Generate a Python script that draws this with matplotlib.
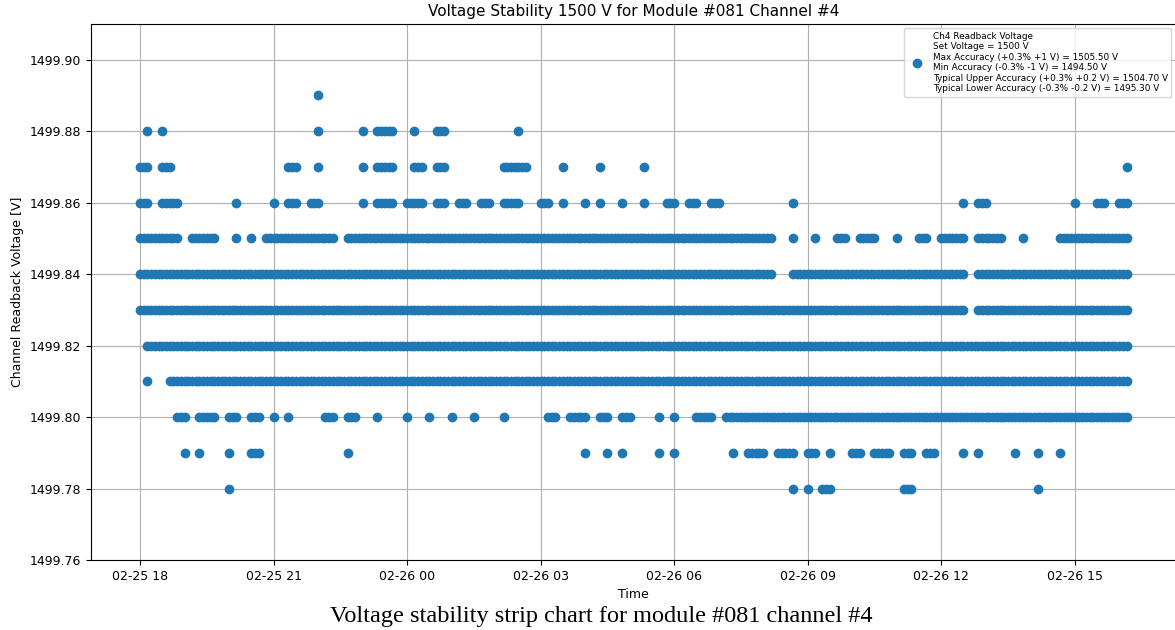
import datetime

import matplotlib
matplotlib.use("Agg")
import matplotlib.dates as mdates
import numpy as np
from matplotlib import pyplot as plt
from matplotlib.ticker import FormatStrFormatter

# --- Data ---
# start of the run and width of one slot of the occupancy strings
start_time = datetime.datetime(2023, 2, 25, 18, 0)
slot_minutes = 5

# readback levels [V]
levels = [1499.89, 1499.88, 1499.87, 1499.86, 1499.85, 1499.84,
          1499.83, 1499.82, 1499.81, 1499.80, 1499.79, 1499.78]

# one string per level, one char per 5 min slot ('#' = reading at that level)
# groups of 12 slots = 1 hour from 02-25 18:00, last group ends 02-26 16:10
occ_1499_89 = ("............ ............ ............ ............ #........... ............ "
               "............ ............ ............ ............ ............ ............ "
               "............ ............ ............ ............ ............ ............ "
               "............ ............ ............ ............ ...")
occ_1499_88 = ("..#...#..... ............ ............ ............ #........... #...#####... "
               "..#.....###. ............ ......#..... ............ ............ ............ "
               "............ ............ ............ ............ ............ ............ "
               "............ ............ ............ ............ ...")
occ_1499_87 = ("###...###... ............ ............ ....###..... #........... #...#####... "
               "..###...###. ............ ..#######... ......#..... ....#....... ....#....... "
               "............ ............ ............ ............ ............ ............ "
               "............ ............ ............ ............ ..#")
occ_1499_86 = ("###...#####. ............ ..#......... #...###...## #........... #...#####... "
               "#####...###. ..###...###. ..#####..... ###...#..... #...#.....#. ....#.....## "
               "#...###...## #........... ........#... ............ ............ ............ "
               "......#...## #........... ............ #.....###... ###")
occ_1499_85 = ("###########. ..#######... ..#...#...## ############ #####...#### ############ "
               "############ ############ ############ ############ ############ ############ "
               "############ ############ ###.....#... ..#.....###. ..#####..... #.....###... "
               "#######...## #####.....#. ........#### ############ ###")
occ_1499_84 = ("############ ############ ############ ############ ############ ############ "
               "############ ############ ############ ############ ############ ############ "
               "############ ############ ###.....#### ############ ############ ############ "
               "#######...## ############ ############ ############ ###")
occ_1499_83 = ("############ ############ ############ ############ ############ ############ "
               "############ ############ ############ ############ ############ ############ "
               "############ ############ ############ ############ ############ ############ "
               "#######...## ############ ############ ############ ###")
occ_1499_82 = ("..########## ############ ############ ############ ############ ############ "
               "############ ############ ############ ############ ############ ############ "
               "############ ############ ############ ############ ############ ############ "
               "############ ############ ############ ############ ###")
occ_1499_81 = ("..#.....#### ############ ############ ############ ############ ############ "
               "############ ############ ############ ############ ############ ############ "
               "############ ############ ############ ############ ############ ############ "
               "############ ############ ############ ############ ###")
occ_1499_80 = ("..........## #...#####... ###...###... #...#....... ..###...###. ....#....... "
               "#.....#..... #.....#..... ..#......... ..###...#### #...###...## #.......#... "
               "#.....#####. ..########## ############ ############ ############ ############ "
               "############ ############ ############ ############ ###")
occ_1499_79 = ("............ #...#....... #.....###... ............ ........#... ............ "
               "............ ............ ............ ............ #.....#...#. ........#... "
               "#........... ....#...#### #...#####... ###...#..... ###...#####. ..###...###. "
               "......#...#. ........#... ..#.....#... ............ ...")
occ_1499_78 = ("............ ............ #........... ............ ............ ............ "
               "............ ............ ............ ............ ............ ............ "
               "............ ............ ........#... #...###..... ............ ..###....... "
               "............ ............ ..#......... ............ ...")

occupancy = [occ_1499_89, occ_1499_88, occ_1499_87, occ_1499_86,
             occ_1499_85, occ_1499_84, occ_1499_83, occ_1499_82,
             occ_1499_81, occ_1499_80, occ_1499_79, occ_1499_78]

legend_label = ("Ch4 Readback Voltage\n"
                "Set Voltage = 1500 V\n"
                "Max Accuracy (+0.3% +1 V) = 1505.50 V\n"
                "Min Accuracy (-0.3% -1 V) = 1494.50 V\n"
                "Typical Upper Accuracy (+0.3% +0.2 V) = 1504.70 V\n"
                "Typical Lower Accuracy (-0.3% -0.2 V) = 1495.30 V")

# --- build point lists from the strings ---
times = []
volts = []
for level, occ in zip(levels, occupancy):
    slots = occ.replace(" ", "")
    assert len(slots) == 267, (level, len(slots))
    for i, c in enumerate(slots):
        if c == "#":
            times.append(start_time + datetime.timedelta(minutes=i * slot_minutes))
            volts.append(level)

# --- plot ---
fig = plt.figure(figsize=(11.75, 6.3), dpi=100)
ax = fig.add_axes([0.0772, 0.1111, 0.9236, 0.8508])

ax.plot(times, volts, "o", color="C0", label=legend_label, zorder=3)

ax.set_ylim(1499.76, 1499.91)
ax.set_yticks(np.arange(1499.76, 1499.905, 0.02))
ax.yaxis.set_major_formatter(FormatStrFormatter("%.2f"))

ax.xaxis.set_major_locator(mdates.HourLocator(byhour=range(0, 24, 3)))
ax.xaxis.set_major_formatter(mdates.DateFormatter("%m-%d %H"))
ax.tick_params(labelsize=9)

ax.grid(True)
ax.set_axisbelow(True)
ax.set_title("Voltage Stability 1500 V for Module #081 Channel #4", fontsize=11)
ax.set_xlabel("Time", fontsize=9)
ax.set_ylabel("Channel Readback Voltage [V]", fontsize=9)
ax.legend(loc="upper right", fontsize=6.4)

# caption under the figure
fig.text(0.512, 0.022, "Voltage stability strip chart for module #081 channel #4",
         ha="center", va="center", fontsize=17.5,
         family=["Liberation Serif", "DejaVu Serif"])

fig.savefig("out.png", dpi=100)
